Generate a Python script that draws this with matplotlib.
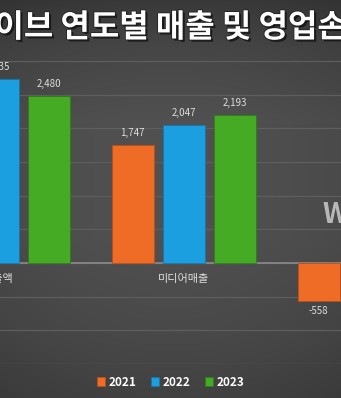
import matplotlib
matplotlib.use("Agg")
import matplotlib.pyplot as plt
import matplotlib.patheffects as pe
import numpy as np

plt.rcParams['font.family'] = ['Noto Sans CJK KR', 'DejaVu Sans']

title = "웨이브 연도별 매출 및 영업손실"
categories = ["매출액", "미디어매출", "영업손실"]
years = ["2021", "2022", "2023"]
values = {
    "2021": [2301, 1747, -558],
    "2022": [2735, 2047, -1217],
    "2023": [2480, 2193, -791],
}
colors = {"2021": "#ee6c26", "2022": "#1c9fe0", "2023": "#45ab24"}
edge = {"2021": "#b9501a", "2022": "#1576a8", "2023": "#2f7d17"}

W, H = 341, 398
fig = plt.figure(figsize=(W / 100, H / 100), dpi=100)

# background gradient
bg = fig.add_axes([0, 0, 1, 1], zorder=-10)
yy = np.linspace(0, 1, 200)
prof = np.interp(yy, [0, 0.12, 0.3, 0.6, 0.85, 1.0], [0.20, 0.25, 0.29, 0.29, 0.26, 0.23])
xx = np.linspace(-1, 1, 200)
img = prof[:, None] + 0.025 * (1 - xx[None, :] ** 2)
bg.imshow(np.dstack([img, img, img]), aspect='auto', extent=[0, 1, 0, 1], origin='upper')
bg.axis('off')

# main axes: positions chosen so that the crop matches
x0_px, x2_px = -2.5, 369.5
unit = (x2_px - x0_px) / 2
xlim = (-0.5, 2.5)
left_px = x0_px + xlim[0] * unit
width_px = (xlim[1] - xlim[0]) * unit
top_px, bot_px = 61, 364
ax = fig.add_axes([left_px / W, (H - bot_px) / H, width_px / W, (bot_px - top_px) / H])
ax.set_facecolor('none')
ax.set_xlim(*xlim)
ax.set_ylim(-1500, 3000)
ax.set_yticks(np.arange(-1500, 3001, 500))
ax.yaxis.grid(True, color='#5e5e5e', lw=0.9)
ax.set_axisbelow(True)
for s in ax.spines.values():
    s.set_visible(False)
ax.tick_params(left=False, bottom=False, labelleft=False, labelbottom=False)
ax.axhline(0, color='#8a8a8a', lw=1.2, zorder=2)

bw = 42 / unit
off = 51 / unit
x = np.arange(len(categories))
for i, yr in enumerate(years):
    xs = x + (i - 1) * off
    ax.bar(xs, values[yr], width=bw, color=colors[yr], edgecolor=edge[yr],
           lw=0.6, zorder=3, label=yr)
    for xi, v in zip(xs, values[yr]):
        if v >= 0:
            ax.annotate(f"{v:,}", (xi, v), xytext=(0, 5), textcoords='offset points',
                        ha='center', va='bottom', fontsize=7, color='#dddddd')
        else:
            ax.annotate(f"{v:,}", (xi, v), xytext=(0, -4), textcoords='offset points',
                        ha='center', va='top', fontsize=7, color='#dddddd')

for xi, c in zip(x, categories):
    ax.annotate(c, (xi, 0), xytext=(0, -8), textcoords='offset points',
                ha='center', va='top', fontsize=8, color='#dddddd')

fig.text(0.5, 1 - 28 / H, title, ha='center', va='center', fontsize=23,
         fontweight='heavy', color='white',
         path_effects=[pe.withSimplePatchShadow(offset=(1.5, -1.5), shadow_rgbFace='black', alpha=0.6),
                       pe.Stroke(linewidth=1.2, foreground='#222222'),
                       pe.Normal()])

fig.text(322 / W, 1 - 215 / H, "WAVVE", ha='left', va='center', fontsize=20,
         fontweight='black', color='#c4c4c4', alpha=0.9)

handles, labels = ax.get_legend_handles_labels()
leg = fig.legend(handles, labels, loc='center', bbox_to_anchor=(0.5, 1 - 382 / H),
                 ncol=3, frameon=False, fontsize=8.5, handlelength=0.7, handleheight=0.7,
                 handletextpad=0.3, columnspacing=1.2)
for t in leg.get_texts():
    t.set_color('white')
    t.set_fontweight('bold')

fig.savefig("out.png", dpi=100)
